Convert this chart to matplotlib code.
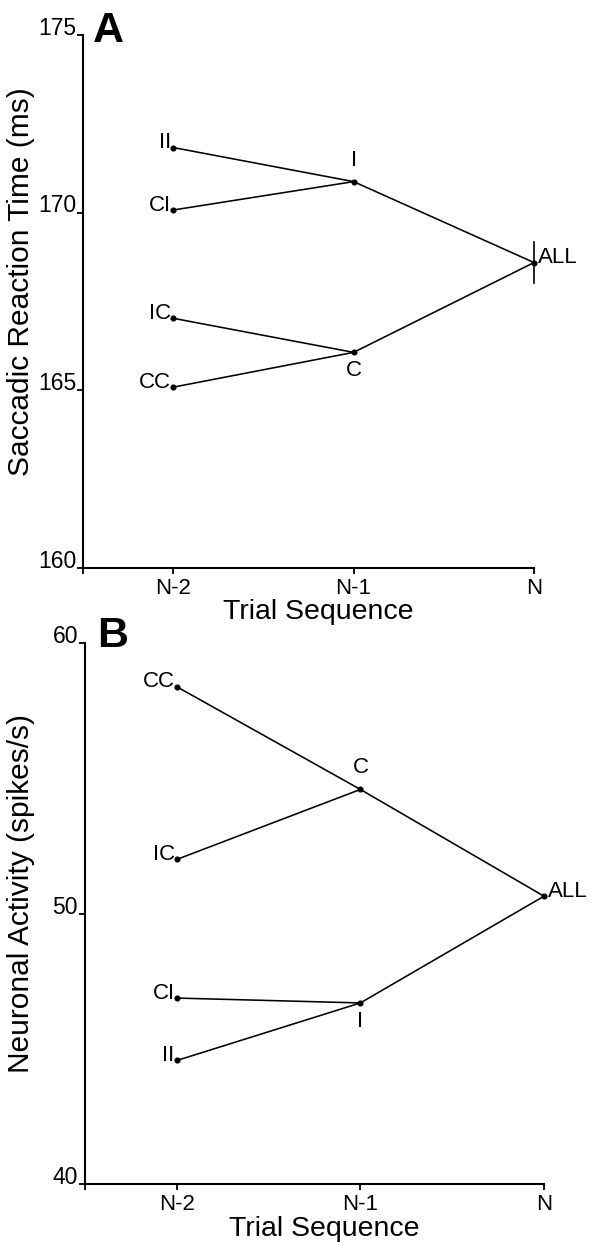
import matplotlib
matplotlib.use("Agg")
import matplotlib.pyplot as plt

plt.rcParams['font.family'] = ['Liberation Sans', 'DejaVu Sans']

# ---- data ----
x_positions = [1, 2, 3]
x_ticklabels = ['N-2', 'N-1', 'N']

n2_labels = ['II', 'CI', 'IC', 'CC']
n2_parent = ['I', 'I', 'C', 'C']
n1_labels = ['I', 'C']

# Panel A: saccadic reaction time (ms)
rt_n2 = [171.83, 170.07, 167.02, 165.08]
rt_n1 = [170.87, 166.06]
rt_all = 168.59
rt_all_err = 0.58

# Panel B: neuronal activity (spikes/s)
na_n2 = [44.57, 46.88, 52.01, 58.40]
na_n1 = [46.70, 54.60]
na_all = 50.65
na_all_err = 0.0

fig = plt.figure(figsize=(5.92, 12.42), dpi=100)
axA = fig.add_axes([83/592, 1-567.5/1242, 451/592, 532.5/1242])
axB = fig.add_axes([85/592, 1-1184/1242, 459/592, 540.5/1242])


def draw(ax, v_n2, v_n1, v_all, err, ylim, yticks, ylabel, letter, label_x,
         xlabel_y, letter_xy):
    x2, x1, x0 = x_positions
    n1map = dict(zip(n1_labels, v_n1))
    kw = dict(color='black', lw=1.15, clip_on=False, solid_capstyle='round')
    for lab, par, v in zip(n2_labels, n2_parent, v_n2):
        ax.plot([x2, x1], [v, n1map[par]], **kw)
    for v in v_n1:
        ax.plot([x1, x0], [v, v_all], **kw)
    allx = [x2] * len(v_n2) + [x1] * len(v_n1) + [x0]
    ally = list(v_n2) + list(v_n1) + [v_all]
    ax.plot(allx, ally, 'o', color='black', ms=3.4, clip_on=False, zorder=5)
    if err > 0:
        ax.plot([x0, x0], [v_all - err, v_all + err], color='black', lw=1.2, clip_on=False)

    fs = 16
    for lab, v in zip(n2_labels, v_n2):
        ax.annotate(lab, (x2, v), xytext=(-1.5, -0.5), textcoords='offset points',
                    ha='right', va='baseline', fontsize=fs)
    hi = max(v_n1)
    for lab, v in zip(n1_labels, v_n1):
        if v == hi:
            ax.annotate(lab, (x1, v), xytext=(0, 8), textcoords='offset points',
                        ha='center', va='bottom', fontsize=fs)
        else:
            ax.annotate(lab, (x1, v), xytext=(0, -5.5), textcoords='offset points',
                        ha='center', va='top', fontsize=fs)
    ax.annotate('ALL', (x0, v_all), xytext=(2.5, -0.5), textcoords='offset points',
                ha='left', va='baseline', fontsize=fs)

    ax.set_xlim(0.5, 3)
    ax.set_ylim(*ylim)
    ax.set_xticks([0.5] + x_positions)
    ax.set_xticklabels([''] + x_ticklabels, fontsize=16)
    ax.set_yticks(yticks)
    ax.set_yticklabels([str(t) for t in yticks], fontsize=16.5)
    for t in ax.get_yticklabels():
        t.set_va('baseline')
    ax.tick_params(axis='x', direction='out', length=4, width=1.3, pad=3.5)
    ax.tick_params(axis='y', direction='out', length=4, width=1.3, pad=1)
    for s in ['top', 'right']:
        ax.spines[s].set_visible(False)
    for s in ['left', 'bottom']:
        ax.spines[s].set_linewidth(1.5)
    ax.set_xlabel('Trial Sequence', fontsize=20.5)
    ax.xaxis.set_label_coords(0.521, xlabel_y)
    ax.xaxis.label.set_va('baseline')
    ax.set_ylabel(ylabel, fontsize=21.5)
    ax.yaxis.set_label_coords(label_x, 0.537)
    ax.yaxis.label.set_va('center')
    ax.text(letter_xy[0], letter_xy[1], letter, transform=ax.transAxes, fontsize=31,
            fontweight='bold', ha='left', va='baseline')


draw(axA, rt_n2, rt_n1, rt_all, rt_all_err, (160, 175), [160, 165, 170, 175],
     'Saccadic Reaction Time (ms)', 'A', (21 - 83) / 451, -0.0965, (0.021, 0.987))
draw(axB, na_n2, na_n1, na_all, na_all_err, (40, 60), [40, 50, 60],
     'Neuronal Activity (spikes/s)', 'B', (21 - 85) / 459, -0.0955, (0.027, 0.994))

fig.savefig('out.png', dpi=100)
